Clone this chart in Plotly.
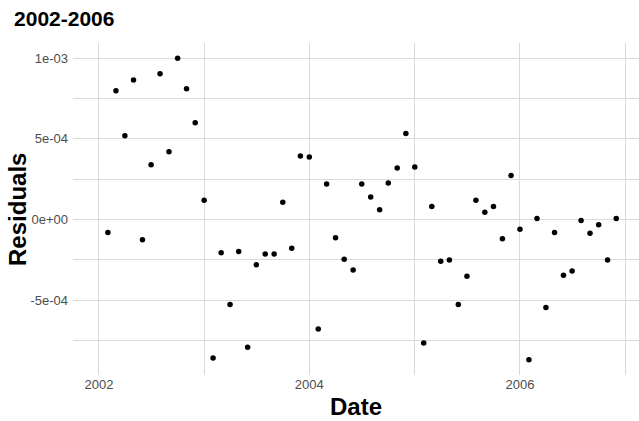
import pandas as pd
import plotly.graph_objects as go

dates = pd.date_range("2002-02-01", "2006-12-01", freq="MS")
residuals = [
    -8.0e-5, 7.98e-4, 5.19e-4, 8.64e-4, -1.25e-4, 3.40e-4, 9.03e-4, 4.20e-4, 1.0e-3, 8.11e-4, 5.99e-4,
    1.19e-4, -8.58e-4, -2.06e-4, -5.27e-4, -1.99e-4, -7.92e-4, -2.80e-4, -2.14e-4, -2.14e-4, 1.07e-4, -1.79e-4, 3.93e-4,
    3.87e-4, -6.79e-4, 2.20e-4, -1.13e-4, -2.47e-4, -3.13e-4, 2.20e-4, 1.40e-4, 6.0e-5, 2.26e-4, 3.19e-4, 5.33e-4,
    3.25e-4, -7.65e-4, 8.0e-5, -2.59e-4, -2.51e-4, -5.27e-4, -3.52e-4, 1.19e-4, 4.5e-5, 8.0e-5, -1.19e-4, 2.72e-4,
    -6.0e-5, -8.70e-4, 6.0e-6, -5.45e-4, -8.0e-5, -3.46e-4, -3.19e-4, -6.0e-6, -8.6e-5, -3.3e-5, -2.51e-4, 6.0e-6,
]
y_tick_vals = [1e-3, 5e-4, 0, -5e-4]
y_tick_text = ["1e-03", "5e-04", "0e+00", "-5e-04"]
title_text = "2002-2006"
x_title = "Date"
y_title = "Residuals"

grid = "#dadada"
fig = go.Figure(go.Scatter(
    x=dates, y=residuals, mode="markers",
    marker=dict(color="black", size=5.5),
))
fig.update_layout(
    width=639, height=421,
    margin=dict(l=73, r=0, t=43, b=46),
    plot_bgcolor="white", paper_bgcolor="white",
    showlegend=False,
    font=dict(family="Liberation Sans, Arial, sans-serif"),
    title=dict(text="<b>%s</b>" % title_text, x=0.022, xanchor="left", y=0.955, yanchor="middle",
               xref="container", yref="container", font=dict(size=21, color="black")),
    xaxis=dict(
        range=["2001-10-03", "2007-02-18"],
        tickformat="%Y", dtick="M24", tick0="2002-01-01",
        showgrid=True, gridcolor=grid, gridwidth=1.1,
        minor=dict(dtick="M12", tick0="2003-01-01", showgrid=True, gridcolor=grid, gridwidth=0.9),
        zeroline=False, showline=False, ticks="",
        tickfont=dict(size=13, color="#4d4d4d"),
    ),
    yaxis=dict(
        range=[-9.64e-4, 1.094e-3],
        tickvals=y_tick_vals, ticktext=y_tick_text,
        showgrid=True, gridcolor=grid, gridwidth=1.1,
        minor=dict(dtick=2.5e-4, tick0=0, showgrid=True, gridcolor=grid, gridwidth=0.9),
        zeroline=False, showline=False, ticks="",
        tickfont=dict(size=13, color="#4d4d4d"),
        ticklabelstandoff=4,
    ),
    annotations=[
        dict(text="<b>%s</b>" % x_title, x=0.5, y=-0.095, xref="paper", yref="paper",
             showarrow=False, font=dict(size=24, color="black"), yanchor="middle"),
        dict(text="<b>%s</b>" % y_title, x=-0.099, y=0.5, xref="paper", yref="paper", textangle=-90,
             showarrow=False, font=dict(size=24, color="black"), xanchor="center"),
    ],
)
fig.write_html("out.html")
